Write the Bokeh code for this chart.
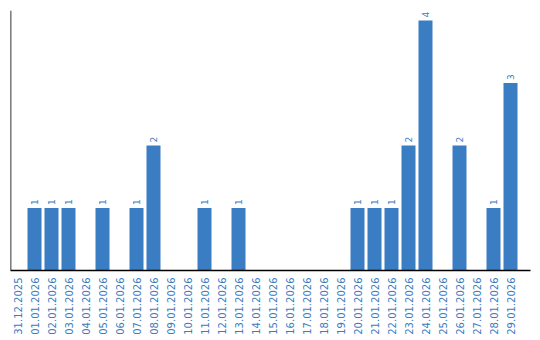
import math
from bokeh.plotting import figure
from bokeh.models import ColumnDataSource, Range1d, FixedTicker, Span
from bokeh.core.properties import value
from bokeh.embed import file_html
from bokeh.resources import INLINE

categories = ["31.12.2025", "01.01.2026", "02.01.2026", "03.01.2026", "04.01.2026",
              "05.01.2026", "06.01.2026", "07.01.2026", "08.01.2026", "09.01.2026",
              "10.01.2026", "11.01.2026", "12.01.2026", "13.01.2026", "14.01.2026",
              "15.01.2026", "16.01.2026", "17.01.2026", "18.01.2026", "19.01.2026",
              "20.01.2026", "21.01.2026", "22.01.2026", "23.01.2026", "24.01.2026",
              "25.01.2026", "26.01.2026", "27.01.2026", "28.01.2026", "29.01.2026"]
counts = [0, 1, 1, 1, 0, 1, 0, 1, 2, 0,
          0, 1, 0, 1, 0, 0, 0, 0, 0, 0,
          1, 1, 1, 2, 4, 0, 2, 0, 1, 3]

BLUE = "#3b7dc2"
TEXT_BLUE = "#3a7cc3"

idx = list(range(len(categories)))
src = ColumnDataSource(dict(x=idx, y=counts))
nz = [i for i in idx if counts[i] > 0]
lbl_src = ColumnDataSource(dict(x=nz, y=[counts[i] for i in nz], t=[str(counts[i]) for i in nz]))

p = figure(width=540, height=340, output_backend="svg", toolbar_location=None,
           x_range=Range1d(-7 / 17, 513 / 17), y_range=Range1d(0, 4.16),
           y_axis_location=None, min_border_left=10, min_border_right=10,
           min_border_top=10, min_border_bottom=70)
p.outline_line_color = None
p.xgrid.grid_line_color = None
p.ygrid.grid_line_color = None
p.background_fill_color = "white"
p.border_fill_color = "white"

p.vbar(x="x", top="y", width=14 / 17, bottom=0, source=src,
       fill_color=BLUE, line_color=None)

p.text(x="x", y="y", text="t", source=lbl_src, angle=math.pi / 2,
       text_align="left", text_baseline="middle", y_offset=-3,
       text_font=value("DejaVu Sans"), text_font_size="9px", text_color=TEXT_BLUE)

ax = p.xaxis[0]
ax.ticker = FixedTicker(ticks=idx)
ax.major_label_overrides = {i: c for i, c in zip(idx, categories)}
ax.major_label_orientation = math.pi / 2
ax.major_label_text_font = "DejaVu Sans"
ax.major_label_text_font_size = "10px"
ax.major_label_text_color = TEXT_BLUE
ax.major_label_standoff = 7
ax.major_tick_line_color = None
ax.minor_tick_line_color = None
ax.major_tick_out = 0
ax.major_tick_in = 0
ax.axis_line_color = "black"
ax.axis_line_width = 1.6

p.add_layout(Span(location=-7 / 17, dimension="height", line_color="black", line_width=1.6))

open("out.html", "w").write(file_html(p, INLINE))
